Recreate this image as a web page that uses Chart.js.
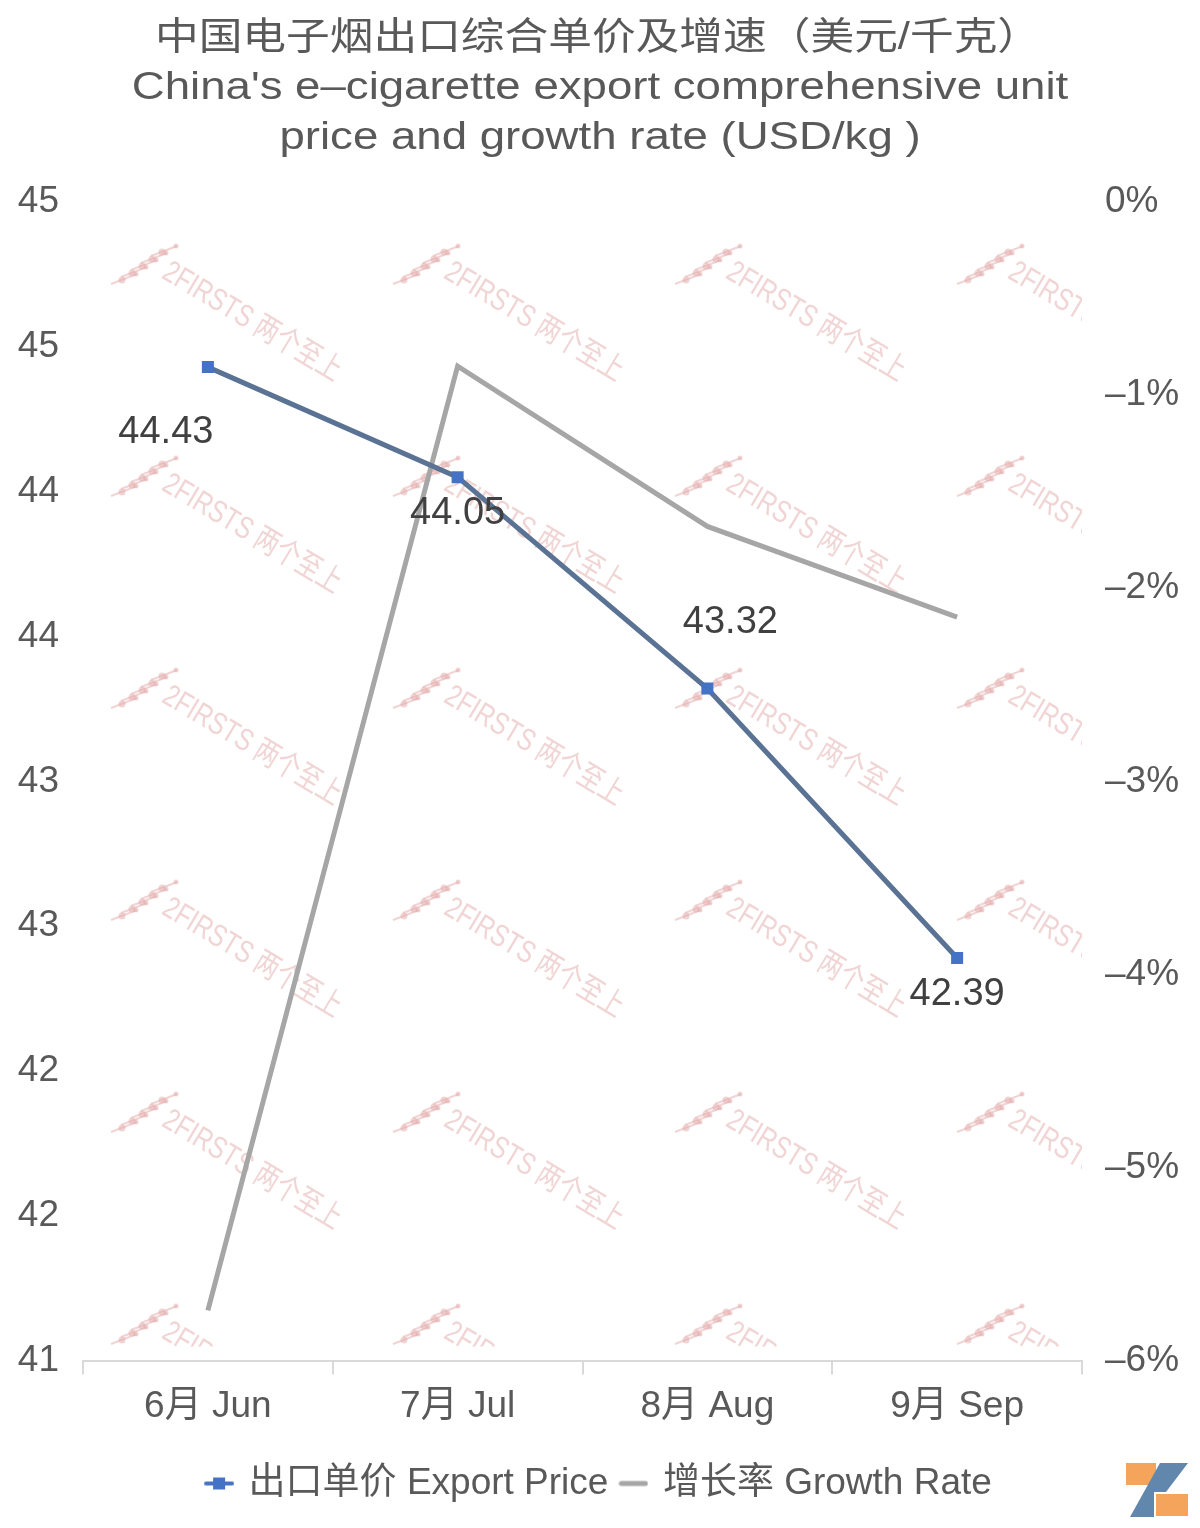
<!DOCTYPE html>
<html>
<head>
<meta charset="utf-8">
<script src="https://cdn.jsdelivr.net/npm/chart.js@4"></script>
<style>
  body { margin: 0; background: #fff; }
  #wrap { width: 1200px; height: 1528px; }
</style>
</head>
<body>
<div id="wrap"><canvas id="myChart" width="1200" height="1528"></canvas></div>
<script>
// chart data
const months = ["6月 Jun", "7月 Jul", "8月 Aug", "9月 Sep"];
const exportPrice = [44.43, 44.05, 43.32, 42.39];   // USD/kg
const growthRate = [-5.74, -0.85, -1.68, -2.15];    // %
const seriesNames = ["出口单价 Export Price", "增长率 Growth Rate"];
const titleLines = ["中国电子烟出口综合单价及增速（美元/千克）", "China's e\u2013cigarette export comprehensive unit", "price and growth rate (USD/kg )"];

const FONT = "'Liberation Sans', 'Noto Sans CJK SC', sans-serif";
const grey = "#595959";

// little legend icons
const makeIcon = (w, h, draw) => {
  const c = document.createElement("canvas");
  c.width = w; c.height = h;
  draw(c.getContext("2d"));
  return c;
};
const priceIcon = makeIcon(30, 14, ctx => {
  ctx.strokeStyle = "#4a72c4"; ctx.lineWidth = 4; ctx.lineCap = "round";
  ctx.beginPath(); ctx.moveTo(2, 7); ctx.lineTo(28, 7); ctx.stroke();
  ctx.fillStyle = "#4472c4"; ctx.fillRect(9, 1, 12, 12);
});
const growthIcon = makeIcon(30, 8, ctx => {
  ctx.strokeStyle = "#a6a6a6"; ctx.lineWidth = 5; ctx.lineCap = "round";
  ctx.beginPath(); ctx.moveTo(3, 4); ctx.lineTo(27, 4); ctx.stroke();
});

// title is drawn by hand so it can be stretched a little sideways like the original
const wideTitle = {
  id: "wideTitle",
  afterDraw(chart) {
    const ctx = chart.ctx;
    const stretch = [1.15, 1.2, 1.2];
    const centerX = [598, 600, 600];
    ctx.save();
    ctx.font = "38px " + FONT;
    ctx.fillStyle = grey;
    ctx.textAlign = "center";
    ctx.textBaseline = "middle";
    titleLines.forEach((line, i) => {
      ctx.save();
      ctx.translate(centerX[i], 39 + i * 50);
      ctx.scale(stretch[i], 1);
      ctx.fillText(line, 0, 0);
      ctx.restore();
    });
    ctx.restore();
  }
};

// faint watermark behind lines
const watermark = {
  id: "watermark",
  beforeDatasetsDraw(chart) {
    const { ctx, chartArea } = chart;
    ctx.save();
    ctx.beginPath();
    ctx.rect(chartArea.left, chartArea.top, chartArea.right - chartArea.left, chartArea.bottom - chartArea.top - 14);
    ctx.clip();
    ctx.fillStyle = "rgba(228,170,170,0.5)";
    ctx.strokeStyle = "rgba(228,170,170,0.5)";
    for (let col = 0; col < 4; col++) {
      for (let row = 0; row < 6; row++) {
        const x = 110 + col * 282, y = 245 + row * 212;
        // dotted icon
        ctx.lineWidth = 2;
        for (let k = 0; k < 5; k++) {
          const cx = x + 14 + k * 10, cy = y + 34 - k * 7;
          ctx.beginPath();
          ctx.moveTo(cx - 13, cy + 5); ctx.lineTo(cx + 13, cy - 5);
          ctx.stroke();
          ctx.beginPath(); ctx.arc(cx - 2, cy + 1, 3.5, 0, Math.PI * 2); ctx.fill();
          ctx.beginPath(); ctx.arc(cx + 12, cy - 5, 2.5, 0, Math.PI * 2); ctx.fill();
        }
        ctx.save();
        ctx.translate(x + 55, y + 25);
        ctx.rotate(31 * Math.PI / 180);
        ctx.scale(0.78, 1);
        ctx.font = "31px " + FONT;
        ctx.textBaseline = "middle";
        ctx.fillText("2FIRSTS 两个至上", 0, 0);
        ctx.restore();
      }
    }
    ctx.restore();
  }
};

// value labels for the price line
const priceLabels = {
  id: "priceLabels",
  afterDatasetsDraw(chart) {
    const { ctx } = chart;
    const meta = chart.getDatasetMeta(0);
    const shift = [[-42, 65], [0, 36], [23, -66], [0, 37]];
    ctx.save();
    ctx.font = "38px " + FONT;
    ctx.fillStyle = "#404040";
    ctx.textAlign = "center";
    ctx.textBaseline = "middle";
    meta.data.forEach((pt, i) => {
      ctx.fillText(exportPrice[i].toFixed(2), pt.x + shift[i][0], pt.y + shift[i][1]);
    });
    ctx.restore();
  }
};

// small logo in the corner
const logo = {
  id: "logo",
  afterDraw(chart) {
    const ctx = chart.ctx;
    ctx.save();
    ctx.fillStyle = "#f4a55b";
    ctx.fillRect(1126, 1463, 30, 22);
    ctx.fillRect(1156, 1494, 32, 22);
    ctx.fillStyle = "#6187ad";
    ctx.beginPath();
    ctx.moveTo(1160, 1463); ctx.lineTo(1188, 1463);
    ctx.lineTo(1166, 1492); ctx.lineTo(1154, 1492); ctx.lineTo(1154, 1517);
    ctx.lineTo(1130, 1517);
    ctx.closePath(); ctx.fill();
    ctx.restore();
  }
};

const minus = v => v === 0 ? "0%" : "\u2013" + Math.abs(v) + "%";

new Chart(document.getElementById("myChart"), {
  type: "line",
  data: {
    labels: months,
    datasets: [{
      label: seriesNames[0],
      data: exportPrice,
      yAxisID: "y",
      borderColor: "#5a7293",
      borderWidth: 5,
      pointStyle: "rect",
      pointRadius: 8.5,
      pointBackgroundColor: "#4472c4",
      pointBorderWidth: 0,
      order: 0
    }, {
      label: seriesNames[1],
      data: growthRate,
      yAxisID: "y1",
      borderColor: "#a6a6a6",
      borderWidth: 5,
      pointRadius: 0,
      order: 1
    }]
  },
  options: {
    responsive: false,
    animation: false,
    layout: { padding: { top: 202, bottom: 16, left: 0, right: 0 } },
    plugins: {
      title: { display: false },
      legend: {
        position: "bottom",
        labels: {
          color: grey,
          font: { family: FONT, size: 37 },
          usePointStyle: true,
          pointStyleWidth: 22,
          padding: 14,
          generateLabels: chart => chart.data.datasets.map((ds, i) => ({
            text: ds.label,
            pointStyle: i === 0 ? priceIcon : growthIcon,
            fontColor: grey,
            datasetIndex: i,
            lineWidth: 0
          }))
        }
      },
      tooltip: { enabled: false }
    },
    scales: {
      x: {
        offset: true,
        border: { color: "#d9d9d9", width: 2 },
        grid: { offset: true, drawOnChartArea: false, color: "#d9d9d9", lineWidth: 2, tickLength: 14 },
        ticks: { color: grey, font: { family: FONT, size: 37 }, padding: 10 },
        afterFit: s => { s.height += 12; }
      },
      y: {
        position: "left",
        min: 41, max: 45,
        border: { display: false },
        grid: { display: false },
        ticks: { stepSize: 0.5, color: grey, font: { family: FONT, size: 37 }, padding: 16,
          callback: v => Math.round(v) },
        afterFit: s => { s.width = 83; }
      },
      y1: {
        position: "right",
        min: -6, max: 0,
        border: { display: false },
        grid: { display: false },
        ticks: { stepSize: 1, color: grey, font: { family: FONT, size: 37 }, padding: 15,
          callback: minus },
        afterFit: s => { s.width = 118; }
      }
    }
  },
  plugins: [watermark, priceLabels, wideTitle, logo]
});
</script>
</body>
</html>
